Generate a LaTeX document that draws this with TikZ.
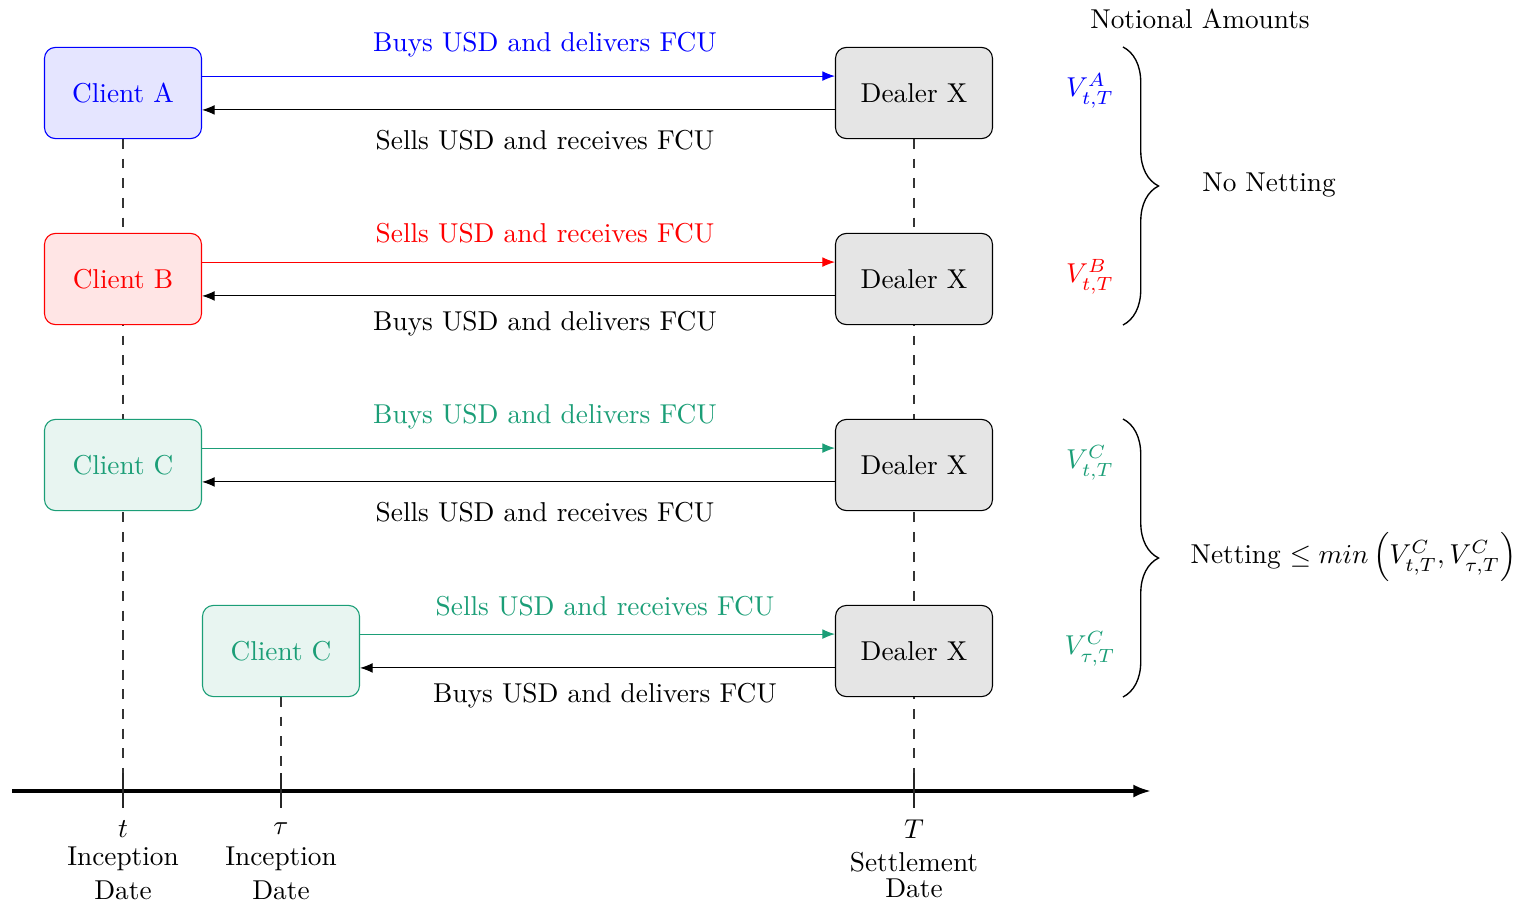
\documentclass[tikz,border=0pt]{standalone}
\usepackage{amsmath}
\usetikzlibrary{arrows.meta,decorations.pathreplacing}
\definecolor{tealc}{RGB}{27,158,119}
\begin{document}
\begin{tikzpicture}[x=0.3663pt,y=-0.3663pt,
  box/.style={draw,rounded corners=4pt,minimum width=57.5pt,minimum height=33.4pt,inner sep=0pt},
  dealer/.style={box,draw=black,fill=black!10,text=black},
  flow/.style={-{Latex[length=4.6pt,width=3.6pt]}},
  vline/.style={black!80,line width=0.5pt,dash pattern=on 3.6pt off 3.6pt},
  tick/.style={black!85,line width=0.5pt},
  lbl/.style={inner sep=0pt},
  brc/.style={decorate,decoration={brace,amplitude=13pt},line width=0.5pt}]
\useasboundingbox (0,0) rectangle (1526,902);

% timeline ticks and dashed lines (behind the boxes)
\coordinate (tA) at (123,773); \coordinate (bA) at (123,808);
\coordinate (tC) at (281,773); \coordinate (bC) at (281,808);
\coordinate (tD) at (914,773); \coordinate (bD) at (914,808);
\coordinate (ax0) at (12,791); \coordinate (ax1) at (1151,791);

\draw[vline] (123,139) -- (tA);
\draw[vline] (914,139) -- (tD);
\draw[vline] (281,697) -- (tC);

% boxes
\node[box,draw=blue,fill=blue!10,text=blue] (ca) at (123,93) {Client A};
\node[box,draw=red,fill=red!10,text=red] (cb) at (123,279) {Client B};
\node[box,draw=tealc,fill=tealc!10,text=tealc] (cc) at (123,465) {Client C};
\node[box,draw=tealc,fill=tealc!10,text=tealc] (cd) at (281,651) {Client C};
\node[dealer] (d1) at (914,93) {Dealer X};
\node[dealer] (d2) at (914,279) {Dealer X};
\node[dealer] (d3) at (914,465) {Dealer X};
\node[dealer] (d4) at (914,651) {Dealer X};

% flows
\draw[flow,blue] ([yshift=6.2pt]ca.east) -- ([yshift=6.2pt]d1.west);
\draw[flow] ([yshift=-6.2pt]d1.west) -- ([yshift=-6.2pt]ca.east);
\draw[flow,red] ([yshift=6.2pt]cb.east) -- ([yshift=6.2pt]d2.west);
\draw[flow] ([yshift=-6.2pt]d2.west) -- ([yshift=-6.2pt]cb.east);
\draw[flow,tealc] ([yshift=6.2pt]cc.east) -- ([yshift=6.2pt]d3.west);
\draw[flow] ([yshift=-6.2pt]d3.west) -- ([yshift=-6.2pt]cc.east);
\draw[flow,tealc] ([yshift=6.2pt]cd.east) -- ([yshift=6.2pt]d4.west);
\draw[flow] ([yshift=-6.2pt]d4.west) -- ([yshift=-6.2pt]cd.east);

% flow labels
\node[lbl,text=blue] (l1a) at (545,45) {Buys USD and delivers FCU};
\node[lbl] (l1b) at (545,140) {Sells USD and receives FCU};
\node[lbl,text=red] (l2a) at (545,233) {Sells USD and receives FCU};
\node[lbl] (l2b) at (545,324) {Buys USD and delivers FCU};
\node[lbl,text=tealc] (l3a) at (545,417) {Buys USD and delivers FCU};
\node[lbl] (l3b) at (545,512) {Sells USD and receives FCU};
\node[lbl,text=tealc] (l4a) at (605,606) {Sells USD and receives FCU};
\node[lbl] (l4b) at (605,696) {Buys USD and delivers FCU};

% axis
\draw[line width=1.2pt,-{Latex[length=6.5pt,width=4.8pt]}] (ax0) -- (ax1);
\draw[tick] (tA) -- (bA);
\draw[tick] (tC) -- (bC);
\draw[tick] (tD) -- (bD);

% axis labels
\node[lbl] (t1) at (123,829) {$t$};
\node[lbl] (t2) at (123,859) {Inception};
\node[lbl] (t3) at (123,890) {Date};
\node[lbl] (u1) at (281,829) {$\tau$};
\node[lbl] (u2) at (281,859) {Inception};
\node[lbl] (u3) at (281,890) {Date};
\node[lbl] (s1) at (914,829) {$T$};
\node[lbl] (s2) at (914,862) {Settlement};
\node[lbl] (s3) at (914,888) {Date};

% notional amounts
\node[lbl] (na) at (1200,19) {Notional Amounts};
\node[lbl,text=blue] (va) at (1090,91) {$V_{t,T}^{A}$};
\node[lbl,text=red] (vb) at (1090,277) {$V_{t,T}^{B}$};
\node[lbl,text=tealc] (vc) at (1090,463) {$V_{t,T}^{C}$};
\node[lbl,text=tealc] (vd) at (1090,649) {$V_{\tau,T}^{C}$};

\coordinate (b1s) at (1123,47); \coordinate (b1e) at (1123,325);
\coordinate (b2s) at (1123,419); \coordinate (b2e) at (1123,697);
\draw[brc] (b1s) -- (b1e);
\draw[brc] (b2s) -- (b2e);
\node[lbl] (nn) at (1269,185) {No Netting};
\node[lbl,anchor=west] (nt) at (1190,557) {Netting $\leq min\,\Bigl(V_{t,T}^{C},V_{\tau,T}^{C}\Bigr)$};
\end{tikzpicture}
\end{document}
